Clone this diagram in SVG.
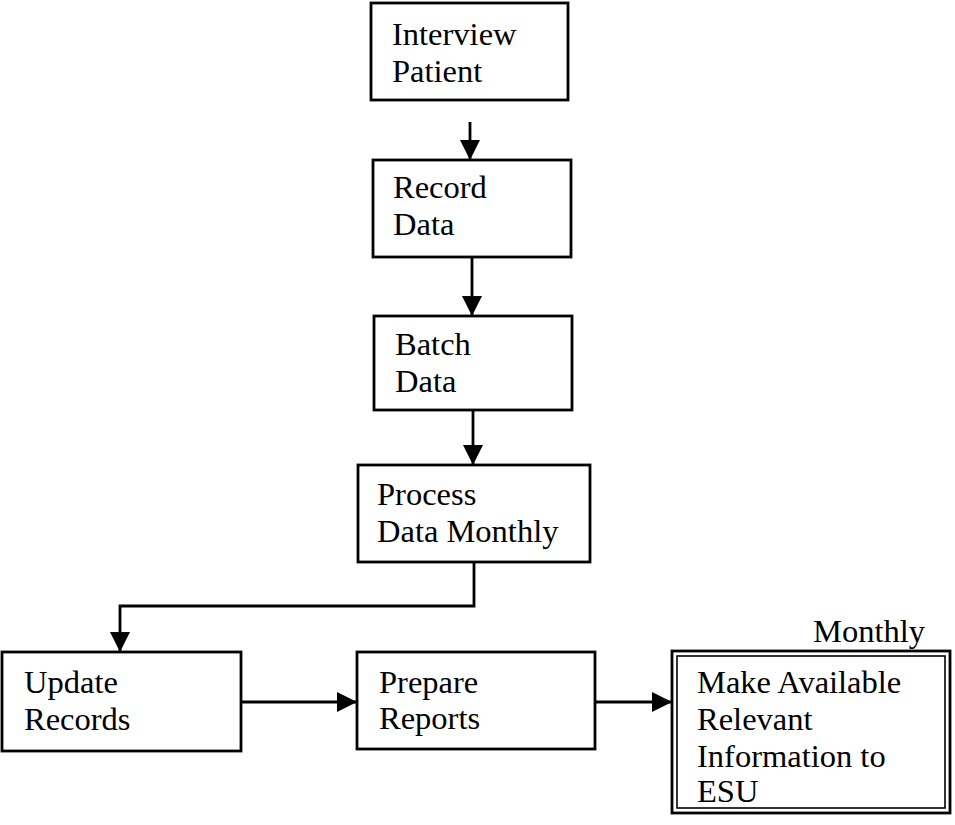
<svg xmlns="http://www.w3.org/2000/svg" width="955" height="825" viewBox="0 0 955 825">
<defs>
<marker id="ah" markerWidth="20" markerHeight="20" refX="20" refY="10" orient="auto" markerUnits="userSpaceOnUse">
<path d="M0,0 L20,10 L0,20 Z" fill="#000"/>
</marker>
<style>
.box{fill:#fff;stroke:#000;stroke-width:2.8}
.t{font-family:"Liberation Serif","Times New Roman",serif;font-size:32.5px;fill:#000}
.c{fill:none;stroke:#000;stroke-width:2.8}
</style>
</defs>
<rect width="955" height="825" fill="#fff"/>
<g id="connectors">
<path class="c" d="M470,122 L470,160" marker-end="url(#ah)"/>
<path class="c" d="M472,258 L472,316" marker-end="url(#ah)"/>
<path class="c" d="M473,410 L473,465" marker-end="url(#ah)"/>
<path class="c" d="M474,562 L474,606 L120,606 L120,652" marker-end="url(#ah)"/>
<path class="c" d="M241,702 L357,702" marker-end="url(#ah)"/>
<path class="c" d="M595,702 L672,702" marker-end="url(#ah)"/>
</g>
<g id="interview">
<rect class="box" x="371" y="3" width="197" height="97"/>
<text class="t" x="392" y="45">Interview</text>
<text class="t" x="392" y="82">Patient</text>
</g>
<g id="record">
<rect class="box" x="373" y="160" width="198" height="97"/>
<text class="t" x="393" y="198">Record</text>
<text class="t" x="393" y="235">Data</text>
</g>
<g id="batch">
<rect class="box" x="374" y="316" width="198" height="94"/>
<text class="t" x="395" y="355">Batch</text>
<text class="t" x="395" y="392">Data</text>
</g>
<g id="process">
<rect class="box" x="358" y="465" width="232" height="97"/>
<text class="t" x="377" y="505">Process</text>
<text class="t" x="377" y="542">Data Monthly</text>
</g>
<g id="update">
<rect class="box" x="2" y="652" width="239" height="99"/>
<text class="t" x="24" y="693">Update</text>
<text class="t" x="24" y="730">Records</text>
</g>
<g id="prepare">
<rect class="box" x="357" y="652" width="238" height="97"/>
<text class="t" x="379" y="693">Prepare</text>
<text class="t" x="379" y="729">Reports</text>
</g>
<g id="make">
<rect class="box" x="672" y="651" width="278" height="162"/>
<rect fill="none" stroke="#000" stroke-width="1.6" x="677" y="656" width="268" height="152"/>
<text class="t" x="697" y="693">Make Available</text>
<text class="t" x="697" y="730">Relevant</text>
<text class="t" x="697" y="767">Information to</text>
<text class="t" x="697" y="802">ESU</text>
</g>
<g id="monthly">
<text class="t" x="813" y="642">Monthly</text>
</g>
</svg>
